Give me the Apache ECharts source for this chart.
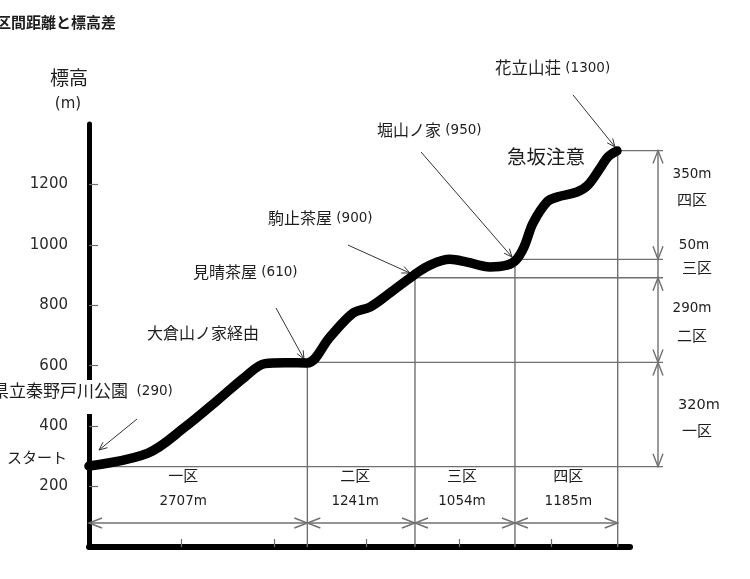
<!DOCTYPE html>
<html><head><meta charset="utf-8">
<script src="https://cdn.jsdelivr.net/npm/echarts@6/dist/echarts.min.js"></script>
<style>html,body{margin:0;padding:0;background:#fff}#c{width:750px;height:579px}</style>
</head><body><div id="c"></div>
<script>
// ---------- data ----------
const title = '区間距離と標高差';
const yName = ['標高', '(m)'];
// profile (distance in km on the drawing's own scale, elevation in m)
const distKm = [0, 0.638, 1.038, 1.395, 1.687, 1.903, 2.119, 2.357, 2.606, 2.855, 3.038, 3.255, 3.514, 3.687, 3.903, 4.087, 4.336, 4.520, 4.617, 4.704, 4.801, 4.952, 5.060, 5.277, 5.396, 5.536, 5.612, 5.709];
const elev   = [268, 311, 397, 487, 563, 607, 610, 609, 695, 774, 794, 841, 900, 933, 952, 943, 927, 933, 950, 993, 1072, 1142, 1158, 1175, 1198, 1258, 1291, 1311];
const yTicks = [200, 400, 600, 800, 1000, 1200];
const xTicks = [1, 2, 3, 4, 5];
const boundaryKm = [0, 2.361, 3.525, 4.606, 5.717];
const levelElev  = [266, 611, 891, 952, 1312];
const sectionNames   = ['一区', '二区', '三区', '四区'];
const sectionLengths = ['2707m', '1241m', '1054m', '1185m'];
const sectionClimbs  = ['320m', '290m', '50m', '350m'];
// spots: name, elevation text, index of profile point the arrow points at
const spotNames  = ['県立秦野戸川公園', '見晴茶屋', '駒止茶屋', '堀山ノ家', '花立山荘'];
const spotElevs  = ['(290)', '(610)', '(900)', '(950)', '(1300)'];
const spotTarget = [0, 7, 12, 18, 27];
const notes = ['スタート', '大倉山ノ家経由', '急坂注意'];

// ---------- layout (pixels, style only) ----------
const CJK = '"Noto Sans CJK JP"';
const NUM = '"DejaVu Sans"';
const TXT = '#1e1e1e';
const GRAY = '#707070';
const spotLayout = [ // text left x, text y, arrow start offset, arrow end offset (relative to target point)
  {x: -8, y: 391, fs: 17, sp: '  ', s: [48, -47], e: [10, -16]},
  {x: 193, y: 272, fs: 16, sp: ' ', s: [-31, -55], e: [-3, -4]},
  {x: 268, y: 218, fs: 16, sp: ' ', s: [-66, -30], e: [-4, -2]},
  {x: 377, y: 130, fs: 16, sp: ' ', s: [-95, -108], e: [-4, -3]},
  {x: 495, y: 68, fs: 16.5, sp: ' ', s: [-44, -56], e: [-2, -4]}
];
const noteLayout = [{x: 7, y: 457, fs: 15}, {x: 147, y: 333, fs: 16}, {x: 507, y: 157, fs: 19.5}];
const secNameOffset = [-15, -6, -3, 2];
const secNameY = 475, secLenY = 501;
const climbPos = [{x: 699, y: 405, nx: 697, ny: 430, fs: 14.5}, {x: 692, y: 308, nx: 692, ny: 335, fs: 13.5}, {x: 694, y: 245, nx: 697, ny: 267, fs: 13.5}, {x: 692, y: 174, nx: 692, ny: 199, fs: 13.5}];
const dimY = 523, dimX = 658, levelEndX = 663;

const chart = echarts.init(document.getElementById('c'));
chart.setOption({
  animation: false,
  grid: {left: 89, right: 120, top: 124, bottom: 32},
  xAxis: {
    type: 'value', min: 0, max: 5.85, interval: 1,
    axisLine: {show: true, onZero: false, lineStyle: {color: '#000', width: 6, cap: 'round'}},
    axisTick: {show: true, inside: true, length: 8, customValues: xTicks, lineStyle: {color: GRAY, width: 1.2}},
    axisLabel: {show: false}, splitLine: {show: false}
  },
  yAxis: {
    type: 'value', min: 0, max: 1400, interval: 200,
    axisLine: {show: true, onZero: false, lineStyle: {color: '#000', width: 5}},
    axisTick: {show: true, inside: true, length: 9, customValues: yTicks, lineStyle: {color: GRAY, width: 1.2}},
    axisLabel: {customValues: yTicks, margin: 21, color: '#2a2a2a', fontFamily: 'DejaVu Sans', fontSize: 15, formatter: v => String(v)},
    splitLine: {show: false}
  },
  series: [{
    type: 'line', data: distKm.map((d, i) => [d, elev[i]]), smooth: 0.35, symbol: 'none', clip: false, z: 10,
    lineStyle: {color: '#000', width: 9.5, cap: 'round', join: 'round'}
  }]
});

const P = (x, y) => chart.convertToPixel({gridIndex: 0}, [x, y]);
const g = [];
const thin = {stroke: GRAY, lineWidth: 1.4, fill: null};
const dark = {stroke: '#333', lineWidth: 1, fill: null};
function line(a, b, st, z) { g.push({type: 'line', shape: {x1: a[0], y1: a[1], x2: b[0], y2: b[1]}, style: st, z: z || 1, silent: true}); }
function head(tip, from, len, half, st) {
  const dx = tip[0] - from[0], dy = tip[1] - from[1], L = Math.hypot(dx, dy), ux = dx / L, uy = dy / L;
  const bx = tip[0] - ux * len, by = tip[1] - uy * len;
  g.push({type: 'polyline', shape: {points: [[bx - uy * half, by + ux * half], tip, [bx + uy * half, by - ux * half]]}, style: Object.assign({}, st), z: 2, silent: true});
}
function text(t, x, y, font, align, extra) {
  g.push(Object.assign({type: 'text', z: 6, silent: true, style: {text: t, x: x, y: y, font: font, fill: TXT, align: align || 'left', verticalAlign: 'middle'}}, extra || {}));
}
const axisBottom = P(0, 0)[1];

// level lines and boundary lines
levelElev.forEach((v, i) => {
  const p = P(boundaryKm[i], v);
  line(p, [levelEndX, p[1]], thin);
  if (i > 0) line(p, [p[0], axisBottom], thin);
});
// horizontal dimension arrows
for (let i = 0; i < 4; i++) {
  const a = [P(boundaryKm[i], 0)[0], dimY], b = [P(boundaryKm[i + 1], 0)[0], dimY];
  line(a, b, thin);
  head(a, b, 13, 5, thin); head(b, a, 13, 5, thin);
  const cx = (a[0] + b[0]) / 2 + secNameOffset[i];
  text(sectionNames[i], cx, secNameY, '15px ' + CJK, 'center');
  text(sectionLengths[i], cx, secLenY, '13.5px ' + NUM, 'center');
}
// vertical dimension arrows
const topP = P(0, levelElev[4])[1], botP = P(0, levelElev[0])[1];
line([dimX, topP], [dimX, botP], thin);
for (let i = 0; i < 4; i++) {
  const y1 = P(0, levelElev[i])[1], y2 = P(0, levelElev[i + 1])[1];
  if (Math.abs(y1 - y2) > 40) { head([dimX, y1], [dimX, y2], 13, 5, thin); head([dimX, y2], [dimX, y1], 13, 5, thin); }
  const c = climbPos[i];
  text(sectionClimbs[i], c.x, c.y, c.fs + 'px ' + NUM, 'center');
  text(sectionNames[i], c.nx, c.ny, '15px ' + CJK, 'center');
}
// spot labels and arrows
spotNames.forEach((n, i) => {
  const L = spotLayout[i];
  const t = P(distKm[spotTarget[i]], elev[spotTarget[i]]);
  const s = [t[0] + L.s[0], t[1] + L.s[1]], e = [t[0] + L.e[0], t[1] + L.e[1]];
  line(s, e, dark, 3); head(e, s, 8, 3.5, dark);
  if (i === 0) g.push({type: 'rect', shape: {x: -10, y: 380, width: 190, height: 34}, style: {fill: '#fff'}, z: 5, silent: true});
  g.push({type: 'text', z: 6, silent: true, style: {
    x: L.x, y: L.y, verticalAlign: 'middle', align: 'left',
    text: '{a|' + n + '}{b|' + L.sp + spotElevs[i] + '}',
    rich: {a: {fontFamily: 'Noto Sans CJK JP', fontSize: L.fs, fill: TXT}, b: {fontFamily: 'DejaVu Sans', fontSize: 13.5, fill: TXT}}
  }});
});
notes.forEach((n, i) => { const L = noteLayout[i]; text(n, L.x, L.y, L.fs + 'px ' + CJK, 'left'); });
// titles
text(title, -4, 22, 'bold 15px ' + CJK, 'left');
text(yName[0], 69, 78, '19px ' + CJK, 'center');
text(yName[1], 68, 104, '15px ' + NUM, 'center');

chart.setOption({graphic: {elements: g}});
</script></body></html>
